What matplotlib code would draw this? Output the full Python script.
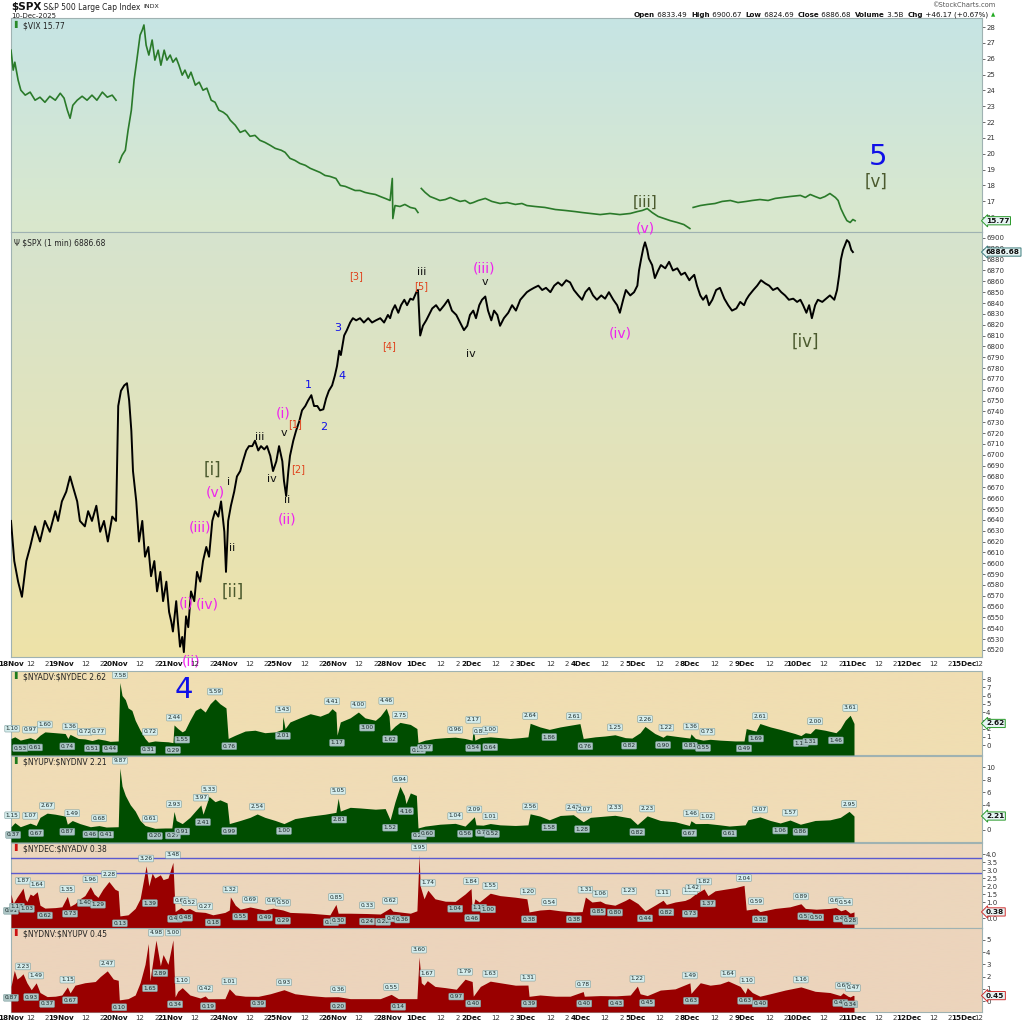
import numpy as np
import matplotlib
matplotlib.use("Agg")
import matplotlib.pyplot as plt
from matplotlib.transforms import blended_transform_factory

# time axis: trading sessions since 18 Nov open (28 Nov is a half session)
day_names = ['18Nov', '19Nov', '20Nov', '21Nov', '24Nov', '25Nov', '26Nov', '28Nov', '1Dec', '2Dec',
             '3Dec', '4Dec', '5Dec', '8Dec', '9Dec', '10Dec', '11Dec', '12Dec', '15Dec']
day_len = [1, 1, 1, 1, 1, 1, 1, 0.5, 1, 1, 1, 1, 1, 1, 1, 1, 1, 1, 1]

# ---- $SPX 1 min
spx_t = [0.09, 0.15, 0.22, 0.29, 0.37, 0.44, 0.53, 0.62, 0.71, 0.80, 0.90, 0.95,
         1.02, 1.10, 1.17, 1.22, 1.30, 1.35, 1.44, 1.50, 1.57, 1.65, 1.72, 1.79, 1.86, 1.94, 2.01,
         2.05, 2.10, 2.16, 2.21, 2.25, 2.29, 2.32, 2.38, 2.43, 2.49, 2.54, 2.60, 2.65, 2.71, 2.76, 2.82, 2.87, 2.93, 2.98, 3.02,
         3.05, 3.11, 3.14, 3.18, 3.22, 3.25, 3.29, 3.33, 3.38, 3.44, 3.49, 3.55, 3.60, 3.66, 3.71, 3.77, 3.82, 3.88, 3.93, 3.99, 4.02,
         4.06, 4.11, 4.17, 4.22, 4.28, 4.33, 4.39, 4.44, 4.50, 4.55, 4.61, 4.66, 4.72, 4.77, 4.83, 4.88, 4.94, 4.99,
         5.05, 5.08, 5.12, 5.16, 5.19, 5.25, 5.30, 5.36, 5.41, 5.47, 5.52, 5.58, 5.63, 5.69, 5.74, 5.80, 5.85, 5.90, 5.96, 6.01,
         6.05, 6.09, 6.12, 6.18, 6.23, 6.29, 6.34, 6.40, 6.47, 6.54, 6.62, 6.69, 6.76, 6.84, 6.91, 6.98, 7.02,
         7.06, 7.11, 7.17, 7.22, 7.28, 7.33, 7.39, 7.44, 7.50, 7.53,
         7.57, 7.62, 7.68, 7.73, 7.79, 7.86, 7.93, 8.01, 8.08, 8.15, 8.23, 8.30, 8.37, 8.43, 8.48, 8.54,
         8.59, 8.65, 8.70, 8.76, 8.81, 8.87, 8.92, 8.98, 9.03, 9.10, 9.18, 9.25, 9.32, 9.40, 9.47, 9.52,
         9.58, 9.65, 9.73, 9.80, 9.87, 9.95, 10.02, 10.09, 10.16, 10.24, 10.31, 10.38, 10.46, 10.53,
         10.59, 10.66, 10.73, 10.80, 10.88, 10.95, 11.02, 11.10, 11.17, 11.22, 11.28, 11.33, 11.41, 11.48, 11.54,
         11.57, 11.61, 11.65, 11.68, 11.72, 11.75, 11.81, 11.86, 11.92, 11.97, 12.05, 12.12, 12.19, 12.27, 12.34, 12.41, 12.49, 12.52,
         12.58, 12.63, 12.69, 12.74, 12.80, 12.85, 12.91, 12.98, 13.05, 13.13, 13.20, 13.27, 13.35, 13.42, 13.49, 13.53,
         13.58, 13.66, 13.73, 13.80, 13.88, 13.95, 14.02, 14.10, 14.17, 14.24, 14.31, 14.39, 14.46, 14.52,
         14.57, 14.63, 14.68, 14.73, 14.79, 14.84, 14.92, 14.99, 15.06, 15.14, 15.19, 15.23, 15.26, 15.30, 15.34, 15.37, 15.41, 15.45, 15.48]
spx_p = [6639, 6602, 6583, 6569, 6602, 6615, 6634, 6620, 6639, 6629, 6648, 6639,
         6657, 6666, 6680, 6671, 6657, 6639, 6634, 6648, 6639, 6653, 6629, 6639, 6620, 6643, 6639,
         6745, 6759, 6764, 6766, 6750, 6722, 6685, 6657, 6620, 6639, 6606, 6615, 6588, 6602, 6574, 6592, 6565, 6583, 6555, 6546,
         6537, 6565, 6546, 6523, 6532, 6518, 6551, 6541, 6574, 6565, 6592, 6583, 6602, 6615, 6606, 6639, 6648, 6643, 6657, 6629, 6592,
         6639, 6653, 6666, 6680, 6685, 6694, 6704, 6708, 6708, 6713, 6704, 6708, 6705, 6708, 6699, 6685, 6694, 6708,
         6694, 6676, 6662, 6685, 6699, 6713, 6722, 6731, 6741, 6745, 6750, 6755, 6745, 6745, 6741, 6742, 6752, 6759, 6764, 6773,
         6782, 6796, 6792, 6810, 6815, 6822, 6826, 6824, 6826, 6822, 6826, 6822, 6824, 6826, 6822, 6829, 6826,
         6833, 6838, 6831, 6838, 6843, 6838, 6844, 6843, 6850, 6852,
         6810, 6819, 6824, 6829, 6835, 6838, 6833, 6838, 6843, 6833, 6829, 6822, 6815, 6819, 6829, 6833,
         6826, 6838, 6843, 6846, 6833, 6824, 6833, 6829, 6819, 6826, 6831, 6838, 6833, 6843, 6847, 6850,
         6852, 6854, 6856, 6852, 6854, 6850, 6856, 6859, 6856, 6861, 6859, 6852, 6847, 6843,
         6850, 6854, 6847, 6843, 6847, 6844, 6850, 6843, 6838, 6831, 6843, 6852, 6847, 6850, 6856,
         6870, 6881, 6891, 6896, 6889, 6881, 6875, 6863, 6870, 6875, 6872, 6878, 6870, 6872, 6866, 6868, 6861, 6863,
         6866, 6856, 6847, 6843, 6847, 6838, 6843, 6852, 6854, 6844, 6838, 6833, 6835, 6841, 6838, 6843,
         6847, 6852, 6856, 6861, 6858, 6856, 6852, 6854, 6850, 6847, 6843, 6844, 6841, 6843,
         6838, 6831, 6838, 6826, 6838, 6843, 6841, 6844, 6847, 6843, 6852, 6866, 6880, 6889, 6894, 6898, 6896, 6889, 6887]

nan = float('nan')
# ---- $VIX (nan = session break)
vix_t = [0.09, 0.13, 0.16, 0.22, 0.27, 0.35, 0.44, 0.53, 0.62, 0.71, 0.80, 0.90, 0.99,
         1.06, 1.12, 1.17, 1.22, 1.30, 1.39, 1.48, 1.57, 1.66, 1.76, 1.85, 1.94, 2.01, nan,
         2.07, 2.12, 2.18, 2.23, 2.29, 2.34, 2.39, 2.45, 2.49, 2.52, 2.56, 2.61, 2.67, 2.72, 2.78, 2.83, 2.89, 2.94, 3.00,
         3.05, 3.11, 3.16, 3.22, 3.27, 3.33, 3.38, 3.46, 3.53, 3.60, 3.67, 3.75, 3.82, 3.89, 3.97, 4.04,
         4.10, 4.19, 4.28, 4.37, 4.46, 4.55, 4.64, 4.73, 4.83, 4.92, 5.03,
         5.10, 5.19, 5.28, 5.37, 5.47, 5.56, 5.65, 5.74, 5.83, 5.92, 6.03,
         6.11, 6.20, 6.29, 6.38, 6.47, 6.56, 6.65, 6.75, 6.84, 6.93, 7.02,
         7.06, 7.07, 7.11, 7.20, 7.29, 7.39, 7.48, 7.53, nan,
         7.59, 7.66, 7.75, 7.84, 7.93, 8.03, 8.12, 8.21, 8.30, 8.39, 8.48, 8.54,
         8.63, 8.76, 8.88, 9.03, 9.16, 9.31, 9.43, 9.52,
         9.67, 9.85, 10.04, 10.22, 10.40, 10.53,
         10.68, 10.86, 11.04, 11.22, 11.41, 11.54,
         11.63, 11.72, 11.81, 11.92, 12.03, 12.14, 12.27, 12.39, 12.50, nan,
         12.56, 12.69, 12.82, 12.96, 13.09, 13.24, 13.38, 13.53,
         13.64, 13.78, 13.93, 14.06, 14.20, 14.33, 14.52,
         14.61, 14.70, 14.79, 14.88, 14.97, 15.06, 15.16, 15.21, 15.26, 15.32, 15.37, 15.43, 15.48, 15.52]
vix_v = [26.54, 25.28, 25.78, 24.65, 24.01, 23.70, 23.89, 23.38, 23.57, 23.25, 23.63, 23.38, 23.82,
         23.51, 22.75, 22.24, 23.06, 23.38, 23.63, 23.38, 23.70, 23.38, 23.89, 23.57, 23.70, 23.38, nan,
         19.46, 19.90, 20.22, 21.48, 22.75, 24.65, 25.91, 27.49, 27.81, 28.13, 26.86, 26.23, 27.18, 25.91, 26.54, 25.59, 26.54, 25.91, 26.23,
         25.78, 26.04, 25.59, 24.96, 25.28, 24.77, 25.15, 24.33, 24.52, 24.01, 24.14, 23.38, 23.25, 22.75, 22.62, 22.43,
         22.11, 21.80, 21.35, 21.48, 21.10, 21.16, 20.85, 20.72, 20.53, 20.34, 20.22,
         20.09, 19.71, 19.58, 19.39, 19.27, 19.08, 18.95, 18.82, 18.63, 18.57, 18.44,
         18.00, 17.94, 17.81, 17.68, 17.68, 17.56, 17.49, 17.43, 17.30, 17.18, 17.05,
         18.44, 15.91, 16.73, 16.67, 16.80, 16.61, 16.54, 16.29, nan,
         17.81, 17.56, 17.30, 17.18, 17.05, 17.11, 17.24, 17.11, 16.99, 17.05, 16.86, 16.92,
         17.05, 17.18, 16.99, 16.86, 16.92, 16.80, 16.86, 16.73,
         16.67, 16.61, 16.48, 16.42, 16.35, 16.29,
         16.23, 16.16, 16.23, 16.16, 16.23, 16.35,
         16.42, 16.54, 16.29, 16.04, 15.91, 15.78, 15.66, 15.53, 15.28, nan,
         16.61, 16.73, 16.80, 16.86, 16.99, 17.05, 16.92, 16.99,
         17.05, 17.11, 17.05, 17.18, 17.24, 17.30, 17.37,
         17.24, 17.43, 17.30, 17.18, 17.30, 17.49, 17.24, 17.05, 16.54, 16.10, 15.78, 15.66, 15.85, 15.77]

# ---- $NYADV:$NYDEC
adv_t = [0.09, 0.16, 0.26, 0.44, 0.53, 0.62, 0.71, 0.90, 1.08, 1.13, 1.17, 1.32, 1.44, 1.57, 1.68, 1.81, 1.90, 2.05,
         2.08, 2.12, 2.18, 2.23, 2.30, 2.36, 2.45, 2.54, 2.60, 2.72, 2.82, 2.96, 3.05, 3.07, 3.14, 3.22, 3.27, 3.36,
         3.46, 3.55, 3.64, 3.73, 3.82, 3.91, 4.02, 4.06, 4.19, 4.37, 4.55, 4.73, 4.92, 5.05, 5.06, 5.10, 5.19, 5.37,
         5.56, 5.74, 5.89, 5.96, 6.03, 6.05, 6.11, 6.29, 6.44, 6.56, 6.75, 6.84, 6.95, 7.00, 7.02, 7.11, 7.20, 7.39,
         7.51, 7.53, 7.66, 7.84, 8.03, 8.21, 8.39, 8.52, 8.54, 8.57, 8.67, 8.85, 9.03, 9.21, 9.40, 9.54, 9.58, 9.76,
         9.93, 10.13, 10.31, 10.49, 10.55, 10.77, 10.95, 11.13, 11.32, 11.44, 11.59, 11.68, 11.86, 12.01, 12.07, 12.32,
         12.50, 12.52, 12.60, 12.74, 12.87, 13.05, 13.33, 13.49, 13.53, 13.64, 13.71, 13.78, 13.97, 14.15, 14.42, 14.53,
         14.61, 14.70, 14.79, 14.97, 15.17, 15.25, 15.34, 15.43, 15.50]
adv_v = [0.8, 1.0, 0.6, 0.9, 0.65, 1.2, 1.6, 1.5, 1.4, 0.8, 1.3, 0.8, 0.75, 0.55, 0.75, 0.6, 0.45, 0.5,
         7.58, 6.0, 5.5, 4.5, 4.2, 3.0, 1.8, 0.8, 0.35, 0.5, 0.45, 0.4, 0.3, 2.44, 2.0, 1.6, 1.8, 3.0,
         4.2, 4.5, 4.0, 5.0, 5.59, 5.0, 4.5, 0.8, 1.2, 1.7, 1.8, 1.5, 1.6, 1.9, 3.43, 2.0, 2.8, 3.3,
         3.8, 3.5, 3.9, 4.41, 4.0, 1.2, 2.8, 3.3, 4.0, 3.3, 3.0, 3.5, 4.46, 3.5, 1.7, 2.3, 2.75, 2.5,
         2.0, 0.3, 0.6, 0.8, 0.9, 0.96, 0.8, 0.6, 2.17, 0.6, 0.9, 1.0, 0.9, 0.8, 0.9, 1.0, 2.64, 2.2,
         1.9, 2.2, 2.4, 2.6, 0.8, 1.0, 1.1, 1.25, 0.9, 0.85, 1.5, 2.26, 1.4, 0.95, 1.22, 1.0,
         0.85, 1.36, 0.8, 0.6, 0.7, 0.6, 0.5, 0.5, 2.0, 1.8, 1.7, 2.61, 2.2, 1.9, 1.4, 1.15,
         1.5, 1.4, 2.0, 1.8, 1.5, 2.0, 3.0, 3.61, 2.62]
adv_pk_t = [0.11, 0.44, 0.71, 1.17, 1.44, 1.68, 2.08, 2.63, 3.07, 3.82, 5.06, 5.96, 6.44, 6.95, 7.20, 8.21, 8.54,
            8.67, 8.85, 9.58, 10.38, 11.13, 11.68, 12.07, 12.52, 12.82, 13.78, 14.79, 15.43]
adv_pk_v = [1.10, 0.97, 1.60, 1.36, 0.72, 0.77, 7.58, 0.72, 2.44, 5.59, 3.43, 4.41, 4.00, 4.46, 2.75, 0.96, 2.17,
            0.81, 1.00, 2.64, 2.61, 1.25, 2.26, 1.22, 1.36, 0.73, 2.61, 2.00, 3.61]
adv_tr_t = [0.26, 0.53, 1.12, 1.57, 1.90, 2.60, 3.05, 3.22, 4.08, 5.06, 6.05, 6.60, 7.02, 7.53, 7.66, 8.54, 8.85,
            9.93, 10.59, 11.39, 12.01, 12.50, 12.74, 13.49, 13.71, 14.53, 14.70, 15.17]
adv_tr_v = [0.53, 0.61, 0.74, 0.51, 0.44, 0.31, 0.29, 1.55, 0.76, 2.01, 1.17, 3.00, 1.62, 0.29, 0.57, 0.54, 0.64,
            1.86, 0.76, 0.82, 0.90, 0.81, 0.55, 0.49, 1.69, 1.13, 1.31, 1.46]

# ---- $NYUPV:$NYDNV
upv_t = [0.09, 0.16, 0.26, 0.44, 0.55, 0.62, 0.75, 0.90, 1.08, 1.12, 1.21, 1.35, 1.54, 1.70, 1.83, 2.05, 2.08, 2.12,
         2.18, 2.27, 2.36, 2.45, 2.54, 2.72, 2.91, 3.03, 3.07, 3.11, 3.22, 3.36, 3.46, 3.56, 3.60, 3.66, 3.71, 3.82,
         3.91, 4.04, 4.08, 4.28, 4.46, 4.59, 4.73, 4.92, 5.08, 5.28, 5.56, 5.83, 6.03, 6.07, 6.11, 6.29, 6.47, 6.75,
         6.93, 7.02, 7.11, 7.20, 7.28, 7.31, 7.39, 7.50, 7.53, 7.66, 7.93, 8.21, 8.39, 8.56, 8.59, 8.72, 8.85, 9.03,
         9.31, 9.54, 9.58, 9.76, 9.93, 10.13, 10.37, 10.55, 10.68, 10.95, 11.13, 11.41, 11.54, 11.72, 11.96, 12.23,
         12.49, 12.52, 12.60, 12.82, 13.05, 13.22, 13.51, 13.56, 13.78, 13.97, 14.15, 14.33, 14.52, 14.79, 15.06,
         15.25, 15.41, 15.50]
upv_v = [0.5, 1.15, 0.5, 1.07, 0.7, 2.0, 2.67, 2.5, 2.2, 0.9, 1.49, 1.0, 0.5, 0.68, 0.45, 0.5, 9.87, 7.0,
         5.5, 4.0, 3.0, 1.5, 0.7, 0.25, 0.3, 0.3, 2.93, 1.5, 1.0, 2.0, 3.0, 3.97, 2.5, 4.0, 5.33, 4.5,
         4.8, 4.3, 1.0, 1.5, 2.0, 2.54, 2.0, 1.5, 1.0, 1.8, 2.2, 2.5, 2.8, 5.05, 3.0, 3.6, 3.5, 3.3,
         3.4, 1.6, 4.5, 6.94, 5.5, 4.2, 5.9, 5.5, 0.3, 0.6, 0.9, 1.04, 0.6, 2.09, 0.8, 0.75, 1.01, 0.8,
         0.7, 0.8, 2.56, 2.2, 1.6, 2.3, 2.42, 1.3, 2.0, 2.2, 2.33, 1.9, 0.85, 2.23, 1.5, 1.3,
         0.7, 1.46, 1.0, 1.02, 0.8, 0.61, 0.8, 1.6, 2.07, 1.5, 1.1, 1.57, 0.9, 1.5, 1.6,
         2.0, 2.95, 2.21]
upv_pk_t = [0.11, 0.44, 0.75, 1.21, 1.70, 2.08, 2.63, 3.07, 3.56, 3.71, 4.59, 6.07, 7.20, 8.21, 8.56, 8.85, 9.58,
            10.37, 10.57, 11.13, 11.72, 12.52, 12.82, 13.78, 14.33, 15.41]
upv_pk_v = [1.15, 1.07, 2.67, 1.49, 0.68, 9.87, 0.61, 2.93, 3.97, 5.33, 2.54, 5.05, 6.94, 1.04, 2.09, 1.01, 2.56,
            2.42, 2.07, 2.33, 2.23, 1.46, 1.02, 2.07, 1.57, 2.95]
upv_tr_t = [0.13, 0.55, 1.12, 1.54, 1.83, 2.72, 3.05, 3.22, 3.60, 4.08, 5.08, 6.09, 7.02, 7.31, 7.55, 7.70, 8.39,
            8.72, 8.88, 9.93, 10.53, 11.54, 12.49, 13.22, 14.15, 14.52]
upv_tr_v = [0.37, 0.67, 0.87, 0.46, 0.41, 0.20, 0.27, 0.91, 2.41, 0.99, 1.00, 2.81, 1.52, 4.16, 0.21, 0.60, 0.56,
            0.70, 0.52, 1.58, 1.28, 0.82, 0.67, 0.61, 1.06, 0.86]

# ---- $NYDEC:$NYADV
dec_t = [0.09, 0.13, 0.20, 0.26, 0.31, 0.35, 0.38, 0.44, 0.49, 0.57, 0.62, 0.71, 0.90, 1.02, 1.12, 1.17, 1.26, 1.35,
         1.44, 1.54, 1.61, 1.68, 1.77, 1.88, 1.99, 2.05, 2.08, 2.23, 2.36, 2.45, 2.52, 2.56, 2.61, 2.67, 2.72, 2.82,
         2.87, 2.96, 3.05, 3.09, 3.20, 3.27, 3.35, 3.46, 3.64, 3.78, 4.00, 4.08, 4.10, 4.19, 4.28, 4.46, 4.73, 4.88,
         5.06, 5.19, 5.56, 5.92, 6.03, 6.07, 6.29, 6.60, 6.84, 7.02, 7.07, 7.24, 7.39, 7.51, 7.55, 7.57, 7.64, 7.71,
         7.84, 8.03, 8.21, 8.39, 8.50, 8.52, 8.57, 8.65, 8.76, 8.85, 9.03, 9.31, 9.52, 9.56, 9.76, 9.93, 10.13, 10.38,
         10.53, 10.59, 10.71, 10.86, 10.95, 11.13, 11.32, 11.39, 11.55, 11.68, 11.86, 12.01, 12.07, 12.23, 12.41, 12.50,
         12.60, 12.76, 12.83, 12.96, 13.14, 13.33, 13.49, 13.53, 13.71, 13.78, 14.06, 14.33, 14.53, 14.61, 14.81, 15.06,
         15.17, 15.26, 15.34, 15.43, 15.50]
dec_v = [1.5, 0.9, 1.3, 1.6, 1.87, 1.2, 1.03, 1.5, 1.4, 1.64, 0.8, 0.62, 0.65, 0.7, 1.35, 0.73, 0.9, 1.2,
         1.4, 1.96, 1.5, 1.29, 1.8, 2.28, 1.8, 1.7, 0.13, 0.2, 0.6, 1.2, 2.5, 3.26, 2.0, 2.8, 2.5, 2.7,
         2.4, 2.5, 3.48, 0.41, 0.65, 0.48, 0.6, 0.4, 0.35, 0.2, 0.35, 0.5, 1.32, 0.8, 0.55, 0.69, 0.5, 0.62,
         0.5, 0.35, 0.3, 0.2, 0.85, 0.3, 0.3, 0.28, 0.25, 0.62, 0.43, 0.36, 0.3, 0.45, 3.95, 2.0, 1.2, 1.74,
         1.2, 1.05, 1.04, 1.5, 1.84, 0.46, 1.2, 1.0, 1.3, 1.55, 1.4, 1.3, 1.2, 0.38, 0.5, 0.54, 0.45, 0.38,
         0.4, 1.31, 1.0, 1.06, 0.9, 0.80, 1.1, 1.23, 0.9, 0.44, 0.8, 1.11, 0.85, 1.0, 1.1, 1.23,
         1.5, 1.82, 1.4, 1.7, 1.8, 1.9, 2.04, 0.5, 0.59, 0.4, 0.6, 0.7, 0.89, 0.6, 0.55, 0.6,
         0.65, 0.45, 0.54, 0.3, 0.38]
dec_pk_t = [0.31, 0.57, 1.12, 1.54, 1.88, 2.56, 3.05, 3.20, 3.35, 3.64, 4.10, 4.46, 4.88, 5.06, 6.03, 6.60, 7.02,
            7.55, 7.71, 8.50, 8.85, 9.54, 9.93, 10.59, 10.86, 11.39, 12.01, 12.50, 12.56, 12.76, 13.49, 13.71, 14.53,
            15.17, 15.34]
dec_pk_v = [1.87, 1.64, 1.35, 1.96, 2.28, 3.26, 3.48, 0.65, 0.52, 0.27, 1.32, 0.69, 0.62, 0.50, 0.85, 0.33, 0.62,
            3.95, 1.74, 1.84, 1.55, 1.20, 0.54, 1.31, 1.06, 1.23, 1.11, 1.23, 1.42, 1.82, 2.04, 0.59, 0.89,
            0.65, 0.54]
dec_tr_t = [0.09, 0.20, 0.38, 0.71, 1.17, 1.44, 1.68, 2.08, 2.63, 3.09, 3.27, 3.78, 4.28, 4.73, 5.06, 5.94, 6.07,
            6.60, 6.89, 7.07, 7.24, 8.21, 8.52, 8.65, 8.81, 9.56, 10.38, 10.82, 11.13, 11.68, 12.07, 12.50, 12.83,
            13.78, 14.61, 14.81, 15.26, 15.43]
dec_tr_v = [0.91, 1.17, 1.03, 0.62, 0.73, 1.40, 1.29, 0.13, 1.39, 0.41, 0.48, 0.18, 0.55, 0.49, 0.29, 0.20, 0.30,
            0.24, 0.22, 0.43, 0.36, 1.04, 0.46, 1.10, 1.00, 0.38, 0.38, 0.85, 0.80, 0.44, 0.82, 0.73, 1.37,
            0.38, 0.57, 0.50, 0.42, 0.28]

# ---- $NYDNV:$NYUPV
dnv_t = [0.09, 0.15, 0.20, 0.26, 0.31, 0.38, 0.46, 0.55, 0.62, 0.75, 0.90, 1.02, 1.12, 1.17, 1.26, 1.44, 1.63, 1.72,
         1.85, 1.96, 2.05, 2.07, 2.23, 2.36, 2.45, 2.54, 2.60, 2.63, 2.69, 2.74, 2.82, 2.87, 2.96, 3.05, 3.09, 3.14,
         3.22, 3.36, 3.55, 3.64, 3.69, 4.00, 4.08, 4.19, 4.37, 4.61, 4.83, 5.08, 5.28, 5.56, 5.83, 6.07, 6.29, 6.56,
         6.84, 7.04, 7.17, 7.39, 7.51, 7.55, 7.59, 7.64, 7.70, 7.84, 8.03, 8.23, 8.39, 8.52, 8.54, 8.67, 8.85, 9.03,
         9.31, 9.54, 9.56, 9.76, 10.04, 10.31, 10.55, 10.57, 10.86, 11.15, 11.41, 11.54, 11.59, 11.72, 11.96, 12.23,
         12.50, 12.52, 12.69, 12.87, 13.05, 13.20, 13.42, 13.51, 13.55, 13.64, 13.78, 13.97, 14.24, 14.53, 14.79,
         15.06, 15.25, 15.30, 15.39, 15.43, 15.48, 15.50]
dnv_v = [1.2, 2.5, 1.8, 2.0, 2.23, 1.5, 0.93, 1.49, 0.7, 0.37, 0.4, 0.5, 1.15, 0.67, 1.3, 1.5, 1.6, 2.0,
         2.47, 1.8, 1.7, 0.1, 0.2, 0.5, 1.5, 3.0, 4.7, 1.65, 3.5, 4.98, 2.89, 3.8, 3.0, 5.00, 0.34, 0.8,
         1.10, 0.5, 0.25, 0.42, 0.19, 0.2, 1.01, 0.5, 0.4, 0.39, 0.6, 0.93, 0.6, 0.45, 0.35, 0.36, 0.2, 0.2,
         0.2, 0.55, 0.2, 0.2, 0.2, 3.60, 1.5, 1.3, 1.67, 1.2, 1.1, 0.97, 1.79, 1.6, 0.40, 1.2, 1.63, 1.5,
         1.3, 1.31, 0.39, 0.5, 0.4, 0.4, 0.78, 0.4, 0.45, 0.43, 0.5, 1.22, 0.6, 0.45, 0.9, 1.0,
         1.49, 0.63, 1.5, 1.3, 1.4, 1.64, 1.2, 0.63, 1.10, 0.7, 0.40, 0.6, 0.9, 1.16, 0.8,
         0.7, 0.45, 0.67, 0.4, 0.34, 0.47, 0.45]
dnv_pk_t = [0.31, 0.55, 1.12, 1.85, 2.74, 3.05, 3.22, 3.64, 4.08, 5.08, 6.07, 7.04, 7.55, 7.70, 8.39, 8.85, 9.54,
            10.55, 11.54, 12.50, 13.20, 13.55, 14.53, 15.30, 15.48]
dnv_pk_v = [2.23, 1.49, 1.15, 2.47, 4.98, 5.00, 1.10, 0.42, 1.01, 0.93, 0.36, 0.55, 3.60, 1.67, 1.79, 1.63, 1.31,
            0.78, 1.22, 1.49, 1.64, 1.10, 1.16, 0.67, 0.47]
dnv_tr_t = [0.09, 0.46, 0.75, 1.17, 2.07, 2.63, 2.82, 3.09, 3.69, 4.61, 6.07, 7.17, 8.23, 8.54, 9.56, 10.57, 11.15,
            11.72, 12.52, 13.51, 13.78, 15.25, 15.43]
dnv_tr_v = [0.87, 0.93, 0.37, 0.67, 0.10, 1.65, 2.89, 0.34, 0.19, 0.39, 0.20, 0.14, 0.97, 0.40, 0.39, 0.40, 0.43,
            0.45, 0.63, 0.63, 0.40, 0.45, 0.34]

# Elliott wave annotations: text, time, level, colour, size
MAG, BLU, OLV, BLK, RED = '#ee22ee', '#1010e8', '#4b5a2e', '#111111', '#e0401a'
vix_waves = [('5', 15.94, 19.77, BLU, 21), ('[v]', 15.90, 18.25, OLV, 12), ('[iii]', 11.68, 16.92, OLV, 11)]
spx_waves = [('(v)', 11.68, 6909, MAG, 10), ('iii', 7.59, 6869, BLK, 8), ('[5]', 7.59, 6856, RED, 7),
             ('(iii)', 8.74, 6872, MAG, 10), ('v', 8.76, 6859, BLK, 8), ('[3]', 6.40, 6865, RED, 7),
             ('3', 6.07, 6817, BLU, 8), ('[4]', 7.00, 6800, RED, 7), ('iv', 8.50, 6793, BLK, 8),
             ('(iv)', 11.22, 6812, MAG, 10), ('[iv]', 14.61, 6804, OLV, 12), ('1', 5.52, 6764, BLU, 8),
             ('4', 6.14, 6773, BLU, 8), ('2', 5.81, 6726, BLU, 8), ('(i)', 5.06, 6738, MAG, 10),
             ('v', 5.08, 6720, BLK, 8), ('[1]', 5.28, 6728, RED, 7), ('iii', 4.64, 6716, BLK, 8),
             ('[2]', 5.34, 6687, RED, 7), ('iv', 4.86, 6678, BLK, 8), ('ii', 5.14, 6658, BLK, 8),
             ('(ii)', 5.14, 6640, MAG, 10), ('[i]', 3.78, 6686, OLV, 12), ('i', 4.06, 6675, BLK, 8),
             ('(v)', 3.82, 6665, MAG, 10), ('(iii)', 3.55, 6633, MAG, 10), ('ii', 4.13, 6614, BLK, 8),
             ('[ii]', 4.15, 6574, OLV, 12), ('(i)', 3.29, 6563, MAG, 10), ('(iv)', 3.67, 6562, MAG, 10),
             ('(ii)', 3.38, 6509, MAG, 10)]

W = 1024
fig = plt.figure(figsize=(10.24, 10.24), dpi=100)
fig.patch.set_facecolor('white')
XMIN, XMAX = 0.09, 17.84


def panel(top, bottom, ylo, yhi, ticks, labels, c_top, c_bot):
    ax = fig.add_axes([11 / W, 1 - bottom / W, 971 / W, (bottom - top) / W])
    g = np.linspace(0, 1, 200)[:, None, None]
    img = np.array(c_top)[None, None, :] * (1 - g) + np.array(c_bot)[None, None, :] * g
    ax.imshow(img / 255.0, extent=(0, 1, 0, 1), transform=ax.transAxes, aspect='auto', zorder=0)
    ax.set_xlim(XMIN, XMAX)
    ax.set_ylim(ylo, yhi)
    ax.set_xticks([])
    ax.yaxis.tick_right()
    ax.set_yticks(ticks)
    ax.set_yticklabels(labels)
    ax.tick_params(axis='y', labelsize=5, length=2, pad=1, colors='#333333', width=0.5)
    for s in ax.spines.values():
        s.set_color('#9fb2b2')
        s.set_linewidth(0.8)
    return ax


def title(ax, txt, icon_color=None):
    x = 0.003
    if icon_color:
        ax.text(x, 0.985, '\u258c', transform=ax.transAxes, fontsize=5, color=icon_color, va='top', zorder=6)
        x = 0.012
    ax.text(x, 0.985, txt, transform=ax.transAxes, fontsize=5.5, color='#222222', va='top', zorder=6,
            parse_math=False)


def tag(ax, value, txt, edge):
    ax.text(1.004, value, txt, transform=blended_transform_factory(ax.transAxes, ax.transData),
            fontsize=5.3, fontweight='bold', color='#111111', va='center', ha='left', zorder=7, clip_on=False,
            bbox=dict(boxstyle='larrow,pad=0.15', fc='#e6f4f4', ec=edge, lw=0.7))


def value_labels(ax, ts, vs, above):
    for t, v in zip(ts, vs):
        ax.annotate(f"{v:.2f}", xy=(t, v), xytext=(0, 3.5 if above else -3.5), textcoords='offset points',
                    ha='center', va='bottom' if above else 'top', fontsize=4.2, color='#1a2a2a', zorder=6,
                    annotation_clip=False,
                    bbox=dict(boxstyle='round,pad=0.15', fc='#d4ecec' if above else '#aec6c6',
                              ec='#7f9f9f', lw=0.4))


# ---- VIX
ax_vix = panel(18, 232, 15.06, 28.57, list(range(16, 29)), [str(v) for v in range(16, 29)],
               (198, 228, 228), (218, 232, 204))
ax_vix.plot(vix_t, vix_v, color='#2a7a2a', lw=1.2, zorder=3)
title(ax_vix, '$VIX 15.77', '#2a8a2a')
tag(ax_vix, vix_v[-1], '15.77', '#2a9a2a')
for txt, t, y, c, s in vix_waves:
    ax_vix.text(t, y, txt, color=c, fontsize=s, ha='center', va='center', zorder=8, clip_on=False)

# ---- SPX
spx_ticks = list(range(6520, 6901, 10))
ax_spx = panel(232, 657, 6513.5, 6905.5, spx_ticks, [str(v) for v in spx_ticks],
               (214, 228, 206), (238, 226, 168))
ax_spx.plot(spx_t, spx_p, color='black', lw=1.4, zorder=3)
title(ax_spx, '\u03a8 $SPX (1 min) 6886.68')
tag(ax_spx, spx_p[-1], '6886.68', '#3a7a7a')
for txt, t, y, c, s in spx_waves:
    ax_spx.text(t, y, txt, color=c, fontsize=s, ha='center', va='center', zorder=8, clip_on=False)

# ---- breadth panels
ax_adv = panel(671, 755, -1.2, 8.97, list(range(0, 9)), [str(v) for v in range(0, 9)],
               (240, 222, 178), (240, 222, 178))
ax_adv.fill_between(adv_t, adv_v, -1.2, color='#004d00', lw=0, zorder=3)
value_labels(ax_adv, adv_pk_t, adv_pk_v, True)
value_labels(ax_adv, adv_tr_t, adv_tr_v, False)
title(ax_adv, '$NYADV:$NYDEC 2.62', '#1d7a1d')
tag(ax_adv, 2.62, '2.62', '#2a9a2a')
ax_adv.text(3.24, 6.67, '4', color=BLU, fontsize=21, ha='center', va='center', zorder=8)

ax_upv = panel(756, 842, -1.94, 11.8, [0, 2, 4, 6, 8, 10], ['0', '2', '4', '6', '8', '10'],
               (240, 220, 182), (240, 220, 182))
ax_upv.fill_between(upv_t, upv_v, -1.94, color='#004d00', lw=0, zorder=3)
value_labels(ax_upv, upv_pk_t, upv_pk_v, True)
value_labels(ax_upv, upv_tr_t, upv_tr_v, False)
title(ax_upv, '$NYUPV:$NYDNV 2.21', '#1d7a1d')
tag(ax_upv, 2.21, '2.21', '#2a9a2a')

dec_ticks = [0.0, 0.5, 1.0, 1.5, 2.0, 2.5, 3.0, 3.5, 4.0]
ax_dec = panel(843, 928, -0.625, 4.69, dec_ticks, [f"{v:.1f}" for v in dec_ticks],
               (236, 214, 188), (236, 214, 188))
ax_dec.fill_between(dec_t, dec_v, -0.625, color='#990000', lw=0, zorder=3)
ax_dec.axhline(3.75, color='#5a5ad0', lw=1.0, zorder=4)
ax_dec.axhline(2.8, color='#5a5ad0', lw=1.0, zorder=4)
value_labels(ax_dec, dec_pk_t, dec_pk_v, True)
value_labels(ax_dec, dec_tr_t, dec_tr_v, False)
title(ax_dec, '$NYDEC:$NYADV 0.38', '#cc1111')
tag(ax_dec, 0.38, '0.38', '#d03030')

ax_dnv = panel(928, 1012, -0.89, 5.97, list(range(0, 6)), [str(v) for v in range(0, 6)],
               (236, 212, 188), (236, 212, 188))
ax_dnv.fill_between(dnv_t, dnv_v, -0.89, color='#990000', lw=0, zorder=3)
value_labels(ax_dnv, dnv_pk_t, dnv_pk_v, True)
value_labels(ax_dnv, dnv_tr_t, dnv_tr_v, False)
title(ax_dnv, '$NYDNV:$NYUPV 0.45', '#cc1111')
tag(ax_dnv, 0.45, '0.45', '#d03030')

# ---- date axis labels (middle band and bottom)
starts = np.concatenate([[0], np.cumsum(day_len)[:-1]])
for ax_ref, ypx in [(ax_spx, 664), (ax_dnv, 1018)]:
    tr = blended_transform_factory(ax_ref.transData, fig.transFigure)
    for name, s, ln in zip(day_names, starts, day_len):
        fig.text(max(s, 0.1), 1 - ypx / W, name, transform=tr, fontsize=5.2, fontweight='bold', ha='center',
                 va='center', color='#111111')
        if ln == 1:
            fig.text(min(s + 0.45, 17.78), 1 - ypx / W, '12', transform=tr, fontsize=5, ha='center',
                     va='center', color='#333333')
            if s + 0.75 < XMAX:
                fig.text(s + 0.75, 1 - ypx / W, '2', transform=tr, fontsize=5, ha='center',
                         va='center', color='#333333')

# ---- header
t1 = fig.text(11 / W, 1 - 7 / W, '$SPX', fontsize=7.5, fontweight='bold', va='center', color='#111111')
a2 = ax_vix.annotate(' S&P 500 Large Cap Index ', xy=(1, 0.5), xycoords=t1, va='center', fontsize=5.5,
                     color='#222222', annotation_clip=False)
ax_vix.annotate('INDX', xy=(1, 0.5), xycoords=a2, va='center', fontsize=4.5, color='#222222',
                annotation_clip=False)
fig.text(11 / W, 1 - 15.5 / W, '10-Dec-2025', fontsize=5, va='center', color='#222222')
fig.text(995 / W, 1 - 5 / W, '\u00a9StockCharts.com', fontsize=4.8, va='center', ha='right', color='#555555')

pieces = [('Open', True), (' 6833.49  ', False), ('High', True), (' 6900.67  ', False), ('Low', True),
          (' 6824.69  ', False), ('Close', True), (' 6886.68  ', False), ('Volume', True), (' 3.5B  ', False),
          ('Chg', True), (' +46.17 (+0.67%) ', False)]
prev = fig.text(995 / W, 1 - 15 / W, '\u25b2', fontsize=4, va='center', ha='right', color='#22aa22')
for txt, bold in reversed(pieces):
    prev = ax_vix.annotate(txt, xy=(0, 0.5), xycoords=prev, va='center', ha='right', fontsize=5.1,
                           fontweight='bold' if bold else 'normal', color='#111111', annotation_clip=False)

fig.savefig('out.png', dpi=100, facecolor='white')
